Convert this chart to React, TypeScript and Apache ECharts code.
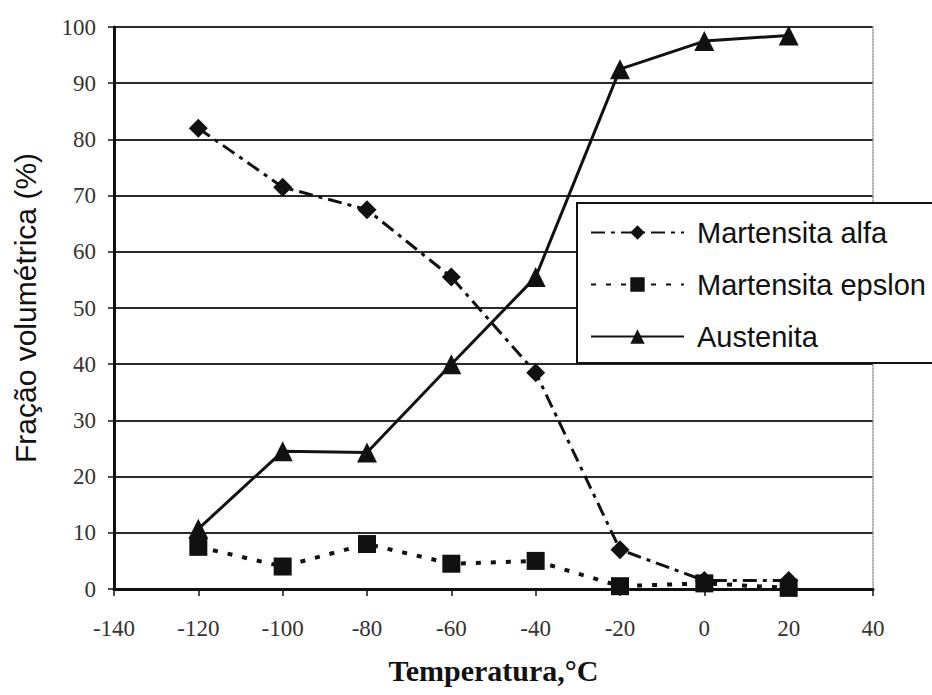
import React, { useEffect, useRef } from "react";
import * as echarts from "echarts";

const temperatures = [-120, -100, -80, -60, -40, -20, 0, 20];
const martensitaAlfa = [82, 71.5, 67.5, 55.5, 38.5, 7, 1.5, 1.5];
const martensitaEpslon = [7.5, 4, 8, 4.5, 5, 0.5, 1, 0.2];
const austenita = [10.7, 24.5, 24.3, 40, 55.5, 92.5, 97.5, 98.5];
const seriesNames = ["Martensita alfa", "Martensita epslon", "Austenita"];

const pairs = (ys: number[]) => temperatures.map((t, i) => [t, ys[i]]);

export default function App() {
  const ref = useRef<HTMLDivElement>(null);
  useEffect(() => {
    if (!ref.current) return;
    const chart = echarts.init(ref.current, undefined, { renderer: "svg" });
    const serifLabel = {
      fontFamily: "Liberation Serif",
      fontSize: 23,
      color: "#333",
    };
    chart.setOption({
      animation: false,
      backgroundColor: "#fff",
      grid: {
        left: 114,
        right: 59,
        top: 27,
        bottom: 106,
        containLabel: false,
        outerBoundsMode: "none",
      },
      legend: {
        orient: "vertical",
        left: 577,
        top: 203,
        padding: [15, 14, 12, 13],
        itemGap: 23,
        itemWidth: 93,
        itemHeight: 18,
        backgroundColor: "#fff",
        borderColor: "#111",
        borderWidth: 2,
        borderRadius: 0,
        data: seriesNames,
        textStyle: {
          fontFamily: "Liberation Sans",
          fontSize: 29,
          lineHeight: 29,
          color: "#111",
          padding: [0, 0, 0, 8],
        },
      },
      xAxis: [
        {
          type: "value",
          min: -140,
          max: 40,
          interval: 20,
          name: "Temperatura,°C",
          nameLocation: "middle",
          nameGap: 66,
          nameTextStyle: {
            fontFamily: "Liberation Serif",
            fontWeight: "bold",
            fontSize: 30,
            color: "#111",
          },
          axisLine: { show: true, onZero: false, lineStyle: { color: "#111", width: 3 } },
          axisTick: { show: true, length: 7, lineStyle: { color: "#111", width: 1.5 } },
          axisLabel: { ...serifLabel, margin: 28 },
          splitLine: { show: false },
        },
      ],
      yAxis: [
        {
          type: "value",
          min: 0,
          max: 100,
          interval: 10,
          name: "Fração volumétrica (%)",
          nameLocation: "middle",
          nameGap: 74,
          nameTextStyle: {
            fontFamily: "Liberation Sans",
            fontSize: 30,
            color: "#111",
          },
          axisLine: { show: true, onZero: false, lineStyle: { color: "#111", width: 3 } },
          axisTick: { show: true, length: 6, lineStyle: { color: "#111", width: 1.5 } },
          axisLabel: { ...serifLabel, margin: 18 },
          splitLine: { show: true, lineStyle: { color: "#2a2a2a", width: 2 } },
        },
        {
          type: "value",
          position: "right",
          min: 0,
          max: 100,
          interval: 10,
          axisLine: { show: true, onZero: false, lineStyle: { color: "#999", width: 1.5, type: "dotted" } },
          axisTick: { show: false },
          axisLabel: { show: false },
          splitLine: { show: false },
        },
      ],
      series: [
        {
          name: seriesNames[0],
          type: "line",
          data: pairs(martensitaAlfa),
          symbol: "diamond",
          symbolSize: 19,
          itemStyle: { color: "#111" },
          lineStyle: { color: "#111", width: 3, type: [14, 6, 4, 6] },
        },
        {
          name: seriesNames[1],
          type: "line",
          data: pairs(martensitaEpslon),
          symbol: "rect",
          symbolSize: 18,
          itemStyle: { color: "#111" },
          lineStyle: { color: "#111", width: 4, type: [5, 10] },
        },
        {
          name: seriesNames[2],
          type: "line",
          data: pairs(austenita),
          symbol: "triangle",
          symbolSize: 20,
          itemStyle: { color: "#111" },
          lineStyle: { color: "#111", width: 3 },
        },
      ],
    });
    return () => chart.dispose();
  }, []);
  return (
    <div
      ref={ref}
      style={{ position: "fixed", left: 0, top: 0, width: 932, height: 695, background: "#fff" }}
    />
  );
}
